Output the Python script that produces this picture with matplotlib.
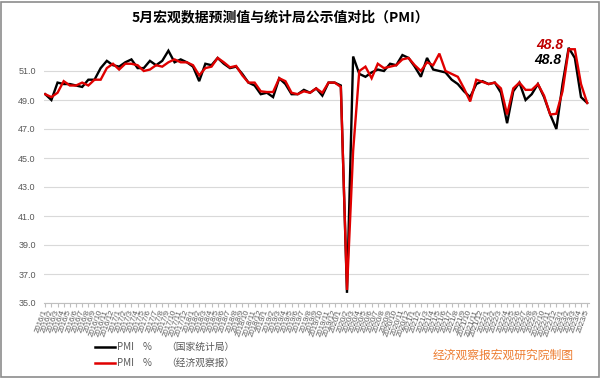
import matplotlib
matplotlib.use("Agg")
import matplotlib.pyplot as plt
from matplotlib.lines import Line2D
from matplotlib.patches import Rectangle

plt.rcParams['font.family'] = ['Noto Sans CJK SC', 'DejaVu Sans']

# ---- data ----
years = [2016, 2017, 2018, 2019, 2020, 2021, 2022, 2023]
months_in_year = [12, 12, 12, 12, 12, 12, 12, 5]
labels = [f"{y}/{m}" for y, n in zip(years, months_in_year) for m in range(1, n + 1)]

pmi_nbs = [
    49.4, 49.0, 50.2, 50.1, 50.1, 50.0, 49.9, 50.4, 50.4, 51.2, 51.7, 51.4,
    51.3, 51.6, 51.8, 51.2, 51.2, 51.7, 51.4, 51.7, 52.4, 51.6, 51.8, 51.6,
    51.3, 50.3, 51.5, 51.4, 51.9, 51.5, 51.2, 51.3, 50.8, 50.2, 50.0, 49.4,
    49.5, 49.2, 50.5, 50.1, 49.4, 49.4, 49.7, 49.5, 49.8, 49.3, 50.2, 50.2,
    50.0, 35.7, 52.0, 50.8, 50.6, 50.9, 51.1, 51.0, 51.5, 51.4, 52.1, 51.9,
    51.3, 50.6, 51.9, 51.1, 51.0, 50.9, 50.4, 50.1, 49.6, 49.2, 50.1, 50.3,
    50.1, 50.2, 49.5, 47.4, 49.6, 50.2, 49.0, 49.4, 50.1, 49.2, 48.0, 47.0,
    50.1, 52.6, 51.9, 49.2, 48.8,
]
pmi_eeo = [
    49.4, 49.2, 49.5, 50.3, 50.0, 50.0, 50.2, 50.0, 50.4, 50.4, 51.2, 51.5,
    51.1, 51.5, 51.5, 51.4, 51.0, 51.1, 51.4, 51.3, 51.6, 51.8, 51.6, 51.6,
    51.4, 50.7, 51.2, 51.3, 51.9, 51.6, 51.25, 51.35, 50.7, 50.2, 50.2, 49.6,
    49.55, 49.55, 50.5, 50.3, 49.5, 49.4, 49.6, 49.5, 49.8, 49.5, 50.2, 50.2,
    49.9, 35.9, 45.5, 51.0, 51.3, 50.5, 51.5, 51.2, 51.3, 51.4, 51.8, 51.9,
    51.4, 51.0, 51.6, 51.4, 52.2, 51.0, 50.8, 50.6, 49.8, 48.9, 50.4, 50.25,
    50.1, 50.2, 49.8, 48.0, 49.8, 50.2, 49.7, 49.7, 50.1, 49.3, 48.0, 48.05,
    49.6, 52.5, 52.5, 50.1, 48.8,
]
yticks = [35.0, 37.0, 39.0, 41.0, 43.0, 45.0, 47.0, 49.0, 51.0]

title = "5月宏观数据预测值与统计局公示值对比（PMI）"
legend_nbs = ["PMI", "%", "（国家统计局）"]
legend_eeo = ["PMI", "%", "（经济观察报）"]
credit = "经济观察报宏观研究院制图"

# ---- figure ----
W, H = 600, 378
fig = plt.figure(figsize=(W / 100, H / 100), dpi=100)
ax = fig.add_axes([44 / W, 1 - 303 / H, (589 - 44) / W, (303 - 42) / H])

x = list(range(len(labels)))
ax.plot(x, pmi_nbs, color='black', lw=1.7, solid_joinstyle='miter', zorder=3)
ax.plot(x, pmi_eeo, color='#E00000', lw=1.7, solid_joinstyle='miter', zorder=4)

ax.set_ylim(35, 53)
ax.set_xlim(-0.2, len(labels) - 1 + 0.3)
ax.set_yticks(yticks)
ax.set_yticklabels([f"{v:.1f}" for v in yticks], fontsize=6.5,
                   color='#595959', family=['Liberation Sans'])
ax.tick_params(axis='y', length=0, pad=6)
ax.grid(axis='y', color='#d9d9d9', lw=0.8, zorder=0)
for s in ['top', 'right', 'left']:
    ax.spines[s].set_visible(False)
ax.spines['bottom'].set_color('#bfbfbf')
ax.spines['bottom'].set_linewidth(0.8)

ax.set_xticks(x)
ax.set_xticklabels(labels, rotation=70, ha='right', va='center',
                   rotation_mode='anchor', fontsize=5.7, color='#595959',
                   family=['Liberation Sans'])
ax.tick_params(axis='x', length=3, color='#bfbfbf', pad=2)

# end labels
last = len(labels) - 1
ax.annotate(f"{pmi_eeo[-1]:.1f}", xy=(last, pmi_eeo[-1]), xytext=(550 / W, 1 - 45 / H),
            textcoords='figure fraction', ha='center', va='center',
            fontsize=10, fontweight='bold', fontstyle='italic', color='#C00000',
            family=['Liberation Sans'])
ax.annotate(f"{pmi_nbs[-1]:.1f}", xy=(last, pmi_nbs[-1]), xytext=(548 / W, 1 - 60 / H),
            textcoords='figure fraction', ha='center', va='center',
            fontsize=10, fontweight='bold', fontstyle='italic', color='black',
            family=['Liberation Sans'])

# title
fig.text(280 / W, 1 - 17 / H, title, ha='center', va='center',
         fontsize=10, fontweight='bold', color='black')

# legend (manual)
for yy, col, txts in [(347, 'black', legend_nbs), (363, '#E00000', legend_eeo)]:
    fig.add_artist(Line2D([95 / W, 115 / W], [1 - yy / H, 1 - yy / H],
                          color=col, lw=1.8, transform=fig.transFigure))
    for xx, t in zip([117, 143, 166], txts):
        fig.text(xx / W, 1 - yy / H, t, ha='left', va='center',
                 fontsize=7, color='#595959')

# credit
fig.text(503 / W, 1 - 355 / H, credit, ha='center', va='center',
         fontsize=8.5, color='#ED7D31')

# border
fig.add_artist(Rectangle((0.5 / W, 1.5 / H), (W - 1.5) / W, (H - 3) / H,
                         transform=fig.transFigure, fill=False,
                         edgecolor='#8c8c8c', lw=1.2))

fig.savefig("out.png", dpi=100)
